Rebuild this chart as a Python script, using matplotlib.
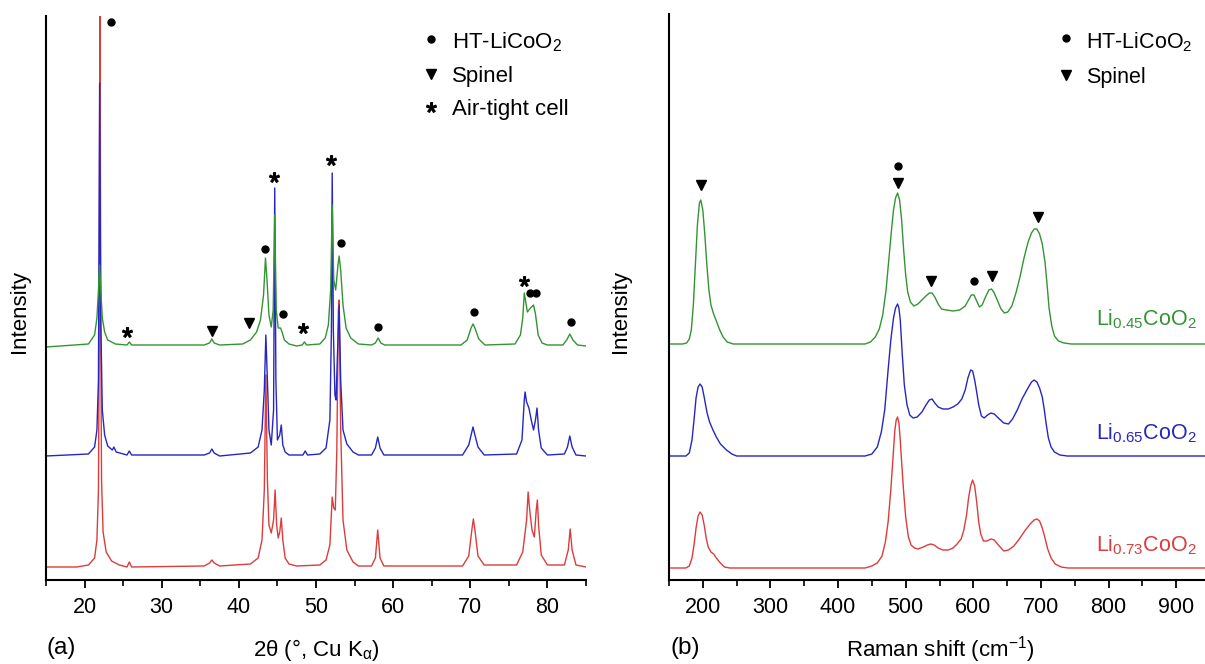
import numpy as np
import matplotlib.pyplot as plt
from matplotlib.ticker import MultipleLocator

plt.rcParams['font.family'] = ['Liberation Sans', 'DejaVu Sans']
plt.rcParams['mathtext.fontset'] = 'custom'
plt.rcParams['mathtext.rm'] = 'Liberation Sans'
plt.rcParams['mathtext.it'] = 'Liberation Sans:italic'
plt.rcParams['mathtext.default'] = 'regular'

# ---- (a) XRD patterns: (2theta, intensity), offset stacked ----
xrd_red = [(15, 13), (19, 13), (20.5, 15), (21.3, 22), (21.6, 40), (21.8, 90), (21.9, 250), (22.0, 620),
           (22.1, 250), (22.2, 100), (22.4, 48), (22.8, 28), (23.5, 19), (24.5, 15), (25.5, 13), (25.8, 18),
           (26.1, 13), (35.5, 14), (36.2, 17), (36.5, 20), (36.8, 17), (37.5, 14), (41.5, 16), (42.5, 22),
           (43.0, 40), (43.3, 90), (43.5, 205), (43.7, 100), (43.9, 55), (44.2, 47), (44.5, 60), (44.7, 90),
           (44.9, 55), (45.1, 42), (45.3, 48), (45.5, 62), (45.7, 40), (46.0, 22), (46.5, 16), (47.5, 14),
           (50.5, 15), (51.3, 20), (51.8, 35), (52.1, 83), (52.3, 72), (52.5, 70), (52.7, 130), (52.9, 270),
           (53.0, 280), (53.2, 150), (53.5, 60), (54.0, 30), (54.8, 18), (55.5, 14), (57.2, 14), (57.7, 22),
           (58.0, 50), (58.3, 22), (58.8, 14), (69.0, 14), (69.8, 24), (70.2, 50), (70.4, 61), (70.6, 50),
           (71.0, 24), (71.8, 15), (76.0, 15), (76.8, 28), (77.3, 60), (77.5, 88), (77.7, 70), (78.0, 50),
           (78.3, 43), (78.55, 70), (78.7, 80), (78.85, 55), (79.2, 25), (80.0, 15), (82.2, 15), (82.7, 30),
           (82.95, 51), (83.2, 30), (83.7, 15), (85, 13)]
xrd_blue = [(15, 124), (20.5, 126), (21.3, 133), (21.6, 150), (21.8, 200), (21.95, 497), (22.1, 260),
            (22.3, 170), (22.6, 145), (23.0, 134), (23.6, 130), (23.8, 133), (24.1, 128), (25.5, 125),
            (25.8, 129), (26.1, 125), (35.5, 125), (36.2, 127), (36.5, 131), (36.8, 127), (37.5, 124),
            (41.5, 127), (42.5, 133), (43.0, 150), (43.3, 190), (43.5, 245), (43.7, 200), (43.9, 150),
            (44.2, 135), (44.5, 170), (44.65, 392), (44.8, 200), (45.0, 140), (45.3, 145), (45.5, 155),
            (45.7, 135), (46.0, 128), (46.5, 125), (48.3, 125), (48.6, 129), (48.9, 125), (50.5, 126),
            (51.3, 132), (51.8, 160), (52.0, 250), (52.1, 407), (52.25, 250), (52.45, 185), (52.6, 180),
            (52.8, 230), (53.0, 275), (53.2, 200), (53.5, 150), (54.0, 136), (54.8, 128), (55.5, 125),
            (57.2, 125), (57.7, 132), (58.0, 143), (58.3, 132), (58.8, 125), (69.0, 125), (69.8, 135),
            (70.2, 148), (70.35, 153), (70.6, 145), (71.0, 133), (71.8, 125), (76.0, 126), (76.7, 140),
            (77.0, 180), (77.1, 188), (77.3, 178), (77.6, 172), (77.9, 160), (78.2, 150), (78.45, 160),
            (78.65, 172), (78.85, 150), (79.2, 132), (80.0, 125), (82.2, 126), (82.6, 133), (82.9, 144),
            (83.2, 133), (83.7, 125), (85, 124)]
xrd_green = [(15, 233), (20.5, 236), (21.3, 245), (21.6, 262), (21.8, 290), (21.95, 315), (22.1, 290),
             (22.3, 262), (22.6, 248), (23.0, 240), (24.0, 236), (25.5, 235), (25.8, 238), (26.1, 235),
             (35.5, 235), (36.2, 237), (36.5, 241), (36.8, 237), (37.5, 235), (40.5, 236), (41.5, 240),
             (42.3, 248), (42.8, 260), (43.2, 285), (43.45, 322), (43.65, 300), (43.9, 265), (44.2, 253),
             (44.45, 270), (44.65, 365), (44.85, 270), (45.1, 252), (45.4, 252), (45.6, 248), (45.9, 240),
             (46.5, 236), (47.5, 234), (48.2, 235), (48.5, 238), (48.8, 235), (50.5, 236), (51.2, 242),
             (51.6, 255), (51.9, 290), (52.1, 375), (52.3, 300), (52.55, 290), (52.85, 315), (53.0, 324),
             (53.2, 310), (53.5, 275), (53.9, 252), (54.5, 242), (55.5, 236), (57.2, 235), (57.7, 237),
             (58.05, 242), (58.4, 237), (58.9, 235), (68.8, 235), (69.6, 240), (70.1, 252), (70.35, 256),
             (70.6, 252), (71.1, 241), (71.9, 235), (75.8, 236), (76.5, 245), (76.8, 262), (77.0, 287),
             (77.15, 280), (77.4, 268), (77.8, 272), (78.2, 275), (78.45, 266), (78.8, 245), (79.3, 237),
             (80.0, 235), (82.0, 235), (82.5, 240), (82.9, 246), (83.3, 240), (83.9, 235), (85, 234)]

xrd_dots = [(23.4, 558), (43.4, 331), (45.7, 266), (53.2, 337), (58.1, 253), (70.5, 268),
            (77.7, 287), (78.5, 287), (83.0, 258)]
xrd_tris = [(36.5, 249), (41.3, 257)]
xrd_stars = [(25.5, 248), (44.6, 403), (48.3, 252), (52.0, 420), (77.0, 299)]

# ---- (b) Raman spectra: (shift, intensity) ----
raman_red = [(150, 12), (175, 12), (180, 14), (184, 22), (187, 35), (190, 52), (193, 64), (196, 68),
             (199, 65), (202, 55), (205, 42), (208, 33), (212, 28), (216, 26), (220, 22), (226, 17),
             (232, 13), (240, 12), (440, 12), (450, 14), (458, 17), (465, 24), (470, 38), (474, 58),
             (478, 90), (481, 120), (484, 150), (486, 160), (488, 163), (490, 157), (492, 140), (494, 118),
             (497, 88), (500, 63), (504, 43), (508, 35), (513, 32), (518, 31), (526, 33), (532, 35),
             (537, 36), (542, 35), (548, 32), (555, 30), (563, 30), (570, 32), (576, 36), (582, 41),
             (586, 50), (590, 65), (593, 82), (596, 94), (599, 100), (602, 94), (605, 78), (608, 58),
             (611, 46), (615, 39), (620, 39), (626, 41), (631, 40), (637, 35), (645, 29), (652, 30),
             (660, 34), (668, 41), (676, 49), (684, 56), (690, 60), (694, 61), (698, 59), (702, 52),
             (706, 42), (710, 31), (715, 22), (721, 16), (730, 13), (740, 12), (950, 12)]
raman_blue = [(150, 124), (175, 124), (180, 127), (184, 140), (187, 160), (190, 182), (193, 193),
              (196, 196), (199, 193), (202, 183), (206, 168), (210, 158), (215, 150), (220, 143),
              (226, 136), (235, 130), (243, 126), (250, 124), (440, 124), (450, 126), (458, 133),
              (464, 148), (469, 170), (474, 210), (478, 240), (482, 262), (485, 272), (488, 276),
              (490, 272), (492, 260), (495, 225), (498, 195), (502, 175), (506, 165), (511, 162),
              (517, 163), (524, 168), (530, 175), (535, 180), (539, 181), (543, 177), (548, 173),
              (555, 171), (563, 171), (570, 173), (577, 176), (583, 181), (588, 190), (592, 202),
              (596, 210), (599, 209), (602, 200), (605, 188), (608, 175), (612, 164), (616, 162),
              (621, 165), (626, 167), (631, 166), (637, 162), (645, 157), (652, 156), (658, 161),
              (665, 170), (672, 181), (680, 191), (686, 198), (690, 200), (694, 198), (698, 192),
              (702, 183), (705, 170), (708, 155), (711, 142), (715, 133), (720, 128), (728, 125),
              (739, 124), (950, 124)]
raman_green = [(150, 236), (170, 236), (176, 237), (180, 241), (183, 250), (186, 275), (189, 315),
               (192, 355), (195, 377), (197, 380), (200, 370), (203, 345), (206, 315), (209, 290),
               (212, 275), (216, 266), (220, 259), (225, 250), (230, 243), (236, 238), (245, 236),
               (440, 236), (448, 238), (455, 243), (461, 251), (466, 265), (471, 290), (475, 320),
               (479, 350), (482, 370), (485, 382), (488, 387), (491, 380), (494, 360), (497, 330),
               (500, 305), (503, 288), (507, 278), (512, 274), (518, 276), (524, 280), (530, 284),
               (535, 287), (539, 287), (543, 283), (548, 276), (553, 271), (560, 270), (570, 269),
               (580, 270), (588, 274), (593, 280), (597, 285), (601, 285), (605, 279), (609, 273),
               (613, 275), (618, 283), (623, 290), (627, 291), (631, 287), (636, 279), (641, 271),
               (646, 267), (651, 268), (657, 274), (663, 287), (669, 303), (675, 322), (681, 338),
               (686, 347), (690, 351), (694, 351), (698, 346), (702, 336), (706, 318), (709, 296),
               (712, 272), (716, 254), (720, 244), (726, 239), (734, 237), (745, 236), (950, 236)]

raman_dots = [(489, 414), (601, 299)]
raman_tris = [(197, 395), (489, 397), (538, 299), (627, 304), (695, 363)]

raman_labels = ['Li$_{0.73}$CoO$_2$', 'Li$_{0.65}$CoO$_2$', 'Li$_{0.45}$CoO$_2$']
raman_label_y = [29, 141, 255]

c_red = '#dc3c3c'
c_blue = '#2626c2'
c_green = '#339433'

fig = plt.figure(figsize=(12.05, 6.64), dpi=100)
W, H = 1205.0, 664.0
ax1 = fig.add_axes([46 / W, 1 - 580 / H, (586 - 46) / W, (580 - 16) / H])
ax2 = fig.add_axes([669 / W, 1 - 580 / H, (1210 - 669) / W, (580 - 14) / H])

for ax in (ax1, ax2):
    for s in ('top', 'right'):
        ax.spines[s].set_visible(False)
    ax.spines['left'].set_linewidth(1.5)
    ax.spines['bottom'].set_linewidth(1.5)
    ax.set_yticks([])
    ax.tick_params(axis='x', which='major', direction='out', length=6, width=1.3, pad=6, labelsize=15.5)
    ax.tick_params(axis='x', which='minor', direction='out', length=4, width=1.2)

# (a)
for data, col in ((xrd_red, c_red), (xrd_blue, c_blue), (xrd_green, c_green)):
    d = np.array(data).T
    ax1.plot(d[0], d[1], color=col, lw=1.0)
d = np.array(xrd_dots).T
ax1.plot(d[0], d[1], 'o', color='black', ms=5, clip_on=False)
d = np.array(xrd_tris).T
ax1.plot(d[0], d[1], 'v', color='black', ms=7.5)
d = np.array(xrd_stars).T
ax1.plot(d[0], d[1], marker='$*$', ls='none', color='black', ms=7)
ax1.set_xlim(15, 85)
ax1.set_ylim(0, 564)
ax1.xaxis.set_major_locator(MultipleLocator(10))
ax1.xaxis.set_minor_locator(MultipleLocator(5))

# legend (a)
ax1.plot([64.9], [541], 'o', color='black', ms=5)
ax1.plot([64.9], [506], 'v', color='black', ms=7.5)
ax1.plot([64.9], [473], marker='$*$', ls='none', color='black', ms=7)
ax1.text(67.6, 532, 'HT-LiCoO$_2$', fontsize=16, va='baseline')
ax1.text(67.6, 498, 'Spinel', fontsize=16, va='baseline')
ax1.text(67.6, 465, 'Air-tight cell', fontsize=16, va='baseline')

# (b)
for data, col in ((raman_red, c_red), (raman_blue, c_blue), (raman_green, c_green)):
    d = np.array(data).T
    ax2.plot(d[0], d[1], color=col, lw=1.0)
d = np.array(raman_dots).T
ax2.plot(d[0], d[1], 'o', color='black', ms=5)
d = np.array(raman_tris).T
ax2.plot(d[0], d[1], 'v', color='black', ms=7.5)
for lab, yy, col in zip(raman_labels, raman_label_y, (c_red, c_blue, c_green)):
    ax2.text(782, yy, lab, color=col, fontsize=15.5, va='baseline')
ax2.set_xlim(150, 950)
ax2.set_ylim(0, 566)
ax2.xaxis.set_major_locator(MultipleLocator(100))
ax2.xaxis.set_minor_locator(MultipleLocator(50))

ax2.plot([737], [542], 'o', color='black', ms=5)
ax2.plot([737], [505], 'v', color='black', ms=7.5)
ax2.text(767, 532, 'HT-LiCoO$_2$', fontsize=15.5, va='baseline')
ax2.text(767, 497, 'Spinel', fontsize=15.5, va='baseline')

# labels
fig.text(19 / W, 1 - 311 / H, 'Intensity', rotation=90, fontsize=16, ha='center', va='center')
fig.text(621 / W, 1 - 311 / H, 'Intensity', rotation=90, fontsize=16, ha='center', va='center')
fig.text(316 / W, 1 - 650 / H, '2θ (°, Cu K$_α$)', fontsize=16, ha='center', va='center')
fig.text(940 / W, 1 - 650 / H, 'Raman shift (cm$^{-1}$)', fontsize=16, ha='center', va='center')
fig.text(46 / W, 1 - 648 / H, '(a)', fontsize=17.5, ha='left', va='center')
fig.text(671 / W, 1 - 648 / H, '(b)', fontsize=17.5, ha='left', va='center')

fig.savefig('out.png', dpi=100)
